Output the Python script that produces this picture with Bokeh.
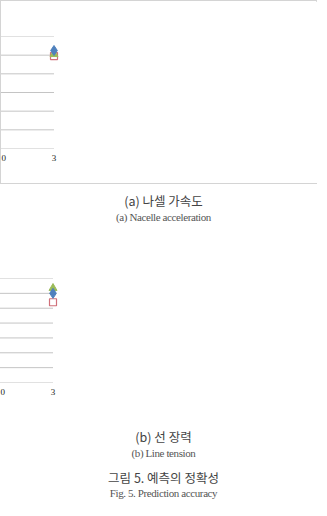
from bokeh.plotting import figure
from bokeh.models import (FixedTicker, NumeralTickFormatter, Legend, LegendItem,
                          Div, Range1d)
from bokeh.layouts import column
from bokeh.embed import file_html
from bokeh.resources import INLINE

# ---------------- data ----------------
x_vals = [1, 2, 3]
x_ticks = [0, 1, 2, 3]

acc_desire = [0.205, 0.190, 0.249]
acc_ann = [0.204, 0.202, 0.251]
acc_gp = [0.198, 0.197, 0.255]
acc_ticks = [0.15, 0.17, 0.19, 0.21, 0.23, 0.25, 0.27]

ten_desire = [2870000, 3820000, 3580000]
ten_ann = [2700000, 3500000, 3770000]
ten_gp = [2950000, 3710000, 3700000]
ten_ticks = [2500000, 2700000, 2900000, 3100000, 3300000, 3500000, 3700000, 3900000]

series_names = ["Desire", "ANN", "GP"]

SERIF = "Liberation Serif"
C_DESIRE = "#d0707a"
C_ANN = "#9bbb59"
C_GP = "#4f81bd"
GRID = "#c4c4c4"


def make_chart(ylabel, desire, ann, gp, yticks, fmt, height, top, left, fw, fh,
               legend_loc, title_offset, ylab_standoff, ylab_tick_standoff, use_styles):
    x_end = x_ticks[-1] * 1.033
    kw = {}
    if use_styles:
        kw["styles"] = {"border": "1px solid #d4d4d4"}
    p = figure(width=317, height=height, output_backend="svg", toolbar_location=None,
               x_range=Range1d(x_ticks[0], x_end),
               y_range=Range1d(yticks[0], yticks[-1]),
               min_border_left=left, min_border_right=317 - left - fw,
               min_border_top=top, min_border_bottom=height - top - fh,
               background_fill_color="white", border_fill_color="white",
               outline_line_color=None, **kw)
    p.title.text = "Prediction"
    p.title.text_font = SERIF
    p.title.text_font_size = "15px"
    p.title.text_font_style = "bold"
    p.title.text_color = "#111111"
    p.title.align = "center"
    p.title.offset = title_offset
    p.title.standoff = 8

    p.xgrid.visible = False
    p.ygrid.visible = False
    p.segment(x0=[x_ticks[0]] * len(yticks), y0=yticks,
              x1=[x_ticks[-1]] * len(yticks), y1=yticks,
              line_color=GRID, line_width=1)

    xa = p.xaxis[0]
    xa.ticker = FixedTicker(ticks=x_ticks)
    xa.axis_line_color = None
    xa.major_tick_line_color = None
    xa.minor_tick_line_color = None
    xa.major_tick_out = 0
    xa.major_tick_in = 0
    xa.major_label_standoff = 6
    xa.major_label_text_font = SERIF
    xa.major_label_text_font_size = "9px"
    xa.major_label_text_color = "#222222"
    xa.axis_label = "Number of data"
    xa.axis_label_text_font = SERIF
    xa.axis_label_text_font_size = "9px"
    xa.axis_label_text_font_style = "bold"
    xa.axis_label_text_color = "#111111"
    xa.axis_label_standoff = 4

    ya = p.yaxis[0]
    ya.ticker = FixedTicker(ticks=yticks)
    ya.formatter = fmt
    ya.axis_line_color = "#b0b0b0"
    ya.major_tick_line_color = None
    ya.minor_tick_line_color = None
    ya.major_tick_out = 0
    ya.major_tick_in = 0
    ya.major_label_standoff = ylab_tick_standoff
    ya.major_label_text_font = SERIF
    ya.major_label_text_font_size = "9px"
    ya.major_label_text_color = "#222222"
    ya.axis_label = ylabel
    ya.axis_label_text_font = SERIF
    ya.axis_label_text_font_size = "9px"
    ya.axis_label_text_font_style = "bold"
    ya.axis_label_text_color = "#111111"
    ya.axis_label_standoff = ylab_standoff

    r1 = p.scatter(x_vals, desire, marker="square", size=7, fill_color=None,
                   line_color=C_DESIRE, line_width=1.2)
    r2 = p.scatter(x_vals, ann, marker="triangle", size=8, fill_color=C_ANN,
                   line_color=C_ANN)
    r3 = p.scatter(x_vals, gp, marker="diamond", size=10, fill_color=C_GP,
                   line_color=C_GP)

    legend = Legend(items=[LegendItem(label=series_names[0], renderers=[r1]),
                           LegendItem(label=series_names[1], renderers=[r2]),
                           LegendItem(label=series_names[2], renderers=[r3])],
                    location=legend_loc)
    legend.border_line_color = None
    legend.background_fill_alpha = 0
    legend.label_text_font = SERIF
    legend.label_text_font_size = "8px"
    legend.label_text_color = "#222222"
    legend.glyph_width = 6
    legend.glyph_height = 6
    legend.label_standoff = 1
    legend.spacing = 6
    legend.padding = 0
    legend.margin = 0
    legend.label_height = 8
    p.add_layout(legend, "right")
    return p


p1 = make_chart("Nacelle acceleration (g)", acc_desire, acc_ann, acc_gp, acc_ticks,
                NumeralTickFormatter(format="0.00"), 184, 35, 45, 226, 112,
                "center", 0, 4, 8, True)

p2 = make_chart("Line tension (N)", ten_desire, ten_ann, ten_gp, ten_ticks,
                NumeralTickFormatter(format="0"), 185, 43, 61, 210, 104,
                (8, 30), -8, 1, 9, False)


def caption_div(height, lines):
    parts = []
    for text, yc, font, size, color, spacing in lines:
        parts.append(
            f'<div style="position:absolute;left:0;top:{yc - 9}px;width:327px;'
            f'height:18px;line-height:18px;text-align:center;white-space:nowrap;'
            f'font-family:\'{font}\';font-size:{size}px;color:{color};'
            f'letter-spacing:{spacing}px;">{text}</div>')
    html = (f'<div style="position:relative;width:327px;height:{height}px;">'
            + "".join(parts) + "</div>")
    return Div(text=html, width=327, height=height, margin=0)


KO = "Noto Sans CJK KR"
cap1 = caption_div(51, [
    ("(a) 나셀 가속도", 17, KO, 12.5, "#444444", 0),
    ("(a) Nacelle acceleration", 33, SERIF, 11, "#555555", -0.4),
])
cap2 = caption_div(83, [
    ("(b) 선 장력", 17, KO, 12.5, "#444444", 0),
    ("(b) Line tension", 33, SERIF, 11, "#555555", -0.4),
    ("그림 5. 예측의 정확성", 58, KO, 12.5, "#444444", 0),
    ("Fig. 5. Prediction accuracy", 73, SERIF, 11, "#555555", -0.4),
])

layout = column(p1, cap1, p2, cap2, spacing=0)

open("out.html", "w").write(file_html(layout, INLINE))
